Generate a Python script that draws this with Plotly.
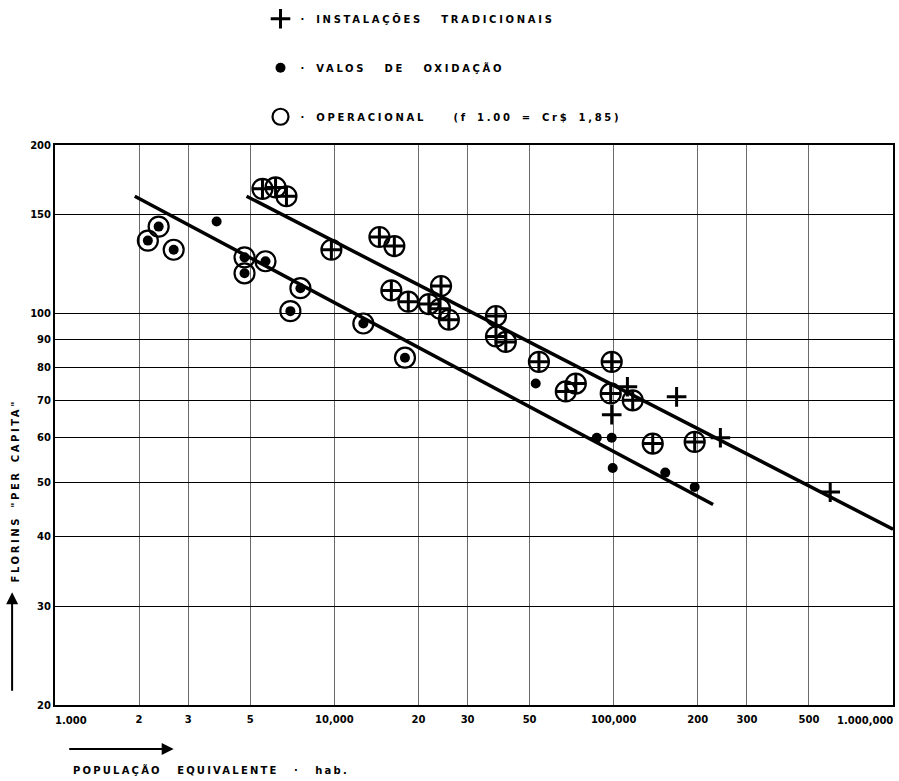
import plotly.graph_objects as go
import math

# ---------------- data ----------------
# operational oxidation ditches (dot inside circle)
dots_op_x = [2150, 2350, 2660, 4770, 4770, 5670, 7560, 6960, 12700, 17900]
dots_op_y = [135, 143, 130, 126, 118, 124, 111, 101, 96, 83.4]
# oxidation ditches (dot only)
dots_x = [3790, 52600, 87000, 98400, 99200, 153000, 195000]
dots_y = [146, 75, 60, 60, 53, 52, 49]
# operational traditional installations (cross inside circle)
crosses_op_x = [5530, 6160, 6740, 9760, 14500, 16400, 16000, 18400, 21800, 24100,
                23900, 25700, 37900, 37900, 41100, 54000, 67400, 73200, 98400, 97600,
                117000, 138000, 195000]
crosses_op_y = [167, 168, 162, 130, 137, 132, 110, 105, 104, 112,
                102, 97.5, 99, 91, 89, 82, 72.6, 75, 82, 72,
                70, 58.6, 59]
# traditional installations (cross only)
crosses_x = [112000, 98400, 168000, 241000, 596000]
crosses_y = [74, 66, 71, 60, 48]

# fitted lines
lower_x = [1930, 227000]
lower_y = [162, 45.6]
upper_x = [4850, 1000000]
upper_y = [162, 41.2]

# axis ticks
x_tickvals = [1000, 2000, 3000, 5000, 10000, 20000, 30000, 50000,
              100000, 200000, 300000, 500000, 1000000]
x_ticktext = ["", "2", "3", "5", "10,000", "20", "30", "50",
              "100,000", "200", "300", "500", ""]
x_first_label = "1.000"
x_last_label = "1.000,000"
y_tickvals = [20, 30, 40, 50, 60, 70, 80, 90, 100, 150, 200]
y_ticktext = ["20", "30", "40", "50", "60", "70", "80", "90", "100", "150", "200"]

name_cross = "· INSTALAÇÕES  TRADICIONAIS"
name_dot = "· VALOS  DE  OXIDAÇÃO"
name_circle = "· OPERACIONAL   (f 1.00 = Cr$ 1,85)"
x_title = "POPULAÇÃO  EQUIVALENTE  ·  hab."
y_title = "FLORINS \"PER CAPITA\""

FONT = "DejaVu Sans"

fig = go.Figure()

for lx, ly in [(lower_x, lower_y), (upper_x, upper_y)]:
    fig.add_trace(go.Scatter(x=lx, y=ly, mode="lines",
                             line=dict(color="black", width=3.5),
                             showlegend=False, hoverinfo="skip"))

fig.add_trace(go.Scatter(
    x=dots_op_x + crosses_op_x, y=dots_op_y + crosses_op_y, mode="markers",
    name=name_circle, legendgroup="c", legendrank=3,
    marker=dict(symbol="circle-open", size=20, color="black",
                line=dict(color="black", width=2.2))))
fig.add_trace(go.Scatter(
    x=crosses_op_x + crosses_x, y=crosses_op_y + crosses_y, mode="markers",
    name=name_cross, legendgroup="a", legendrank=1,
    marker=dict(symbol="cross-thin-open", size=14, color="black",
                line=dict(color="black", width=3))))
fig.add_trace(go.Scatter(
    x=dots_op_x + dots_x, y=dots_op_y + dots_y, mode="markers",
    name=name_dot, legendgroup="b", legendrank=2,
    marker=dict(symbol="circle", size=10, color="black")))

L, R, T, B = 55, 4, 144, 76
W, H = 899, 781
pw, ph = W - L - R, H - T - B


def px(xp):
    return (xp - L) / pw


def py(yp):
    return (H - B - yp) / ph


axis_font = dict(family=FONT, size=10, color="black", weight="bold")

fig.update_xaxes(type="log", range=[3, 6], tickvals=x_tickvals, ticktext=x_ticktext,
                 showgrid=True, gridcolor="#6a6a6a", gridwidth=1.3,
                 showline=True, mirror=True, linecolor="black", linewidth=2,
                 ticks="", tickfont=axis_font, zeroline=False,
                 ticklabelstandoff=4)
fig.update_yaxes(type="log", range=[math.log10(20), math.log10(200)],
                 tickvals=y_tickvals, ticktext=y_ticktext,
                 showgrid=True, gridcolor="black", gridwidth=1.2,
                 showline=True, mirror=True, linecolor="black", linewidth=2,
                 ticks="", tickfont=axis_font, zeroline=False)

ann_font = dict(family=FONT, size=10, color="black", weight="bold")
fig.add_annotation(xref="paper", yref="paper", x=px(53), y=py(713), text=x_first_label,
                   showarrow=False, xanchor="left", yanchor="top", font=axis_font)
fig.add_annotation(xref="paper", yref="paper", x=px(897), y=py(713), text=x_last_label,
                   showarrow=False, xanchor="right", yanchor="top", font=axis_font)
# axis titles
fig.add_annotation(xref="paper", yref="paper", x=px(71), y=py(770), text=x_title,
                   showarrow=False, xanchor="left", yanchor="middle", align="left",
                   font=ann_font)
fig.add_annotation(xref="paper", yref="paper", x=px(15), y=py(490), text=y_title,
                   showarrow=False, textangle=-90, xanchor="center", yanchor="middle",
                   font=ann_font)
# arrows
fig.add_annotation(xref="paper", yref="paper", x=px(174), y=py(749), ax=-106, ay=0,
                   text="", showarrow=True, arrowhead=2, arrowsize=1.2, arrowwidth=2,
                   arrowcolor="black", axref="pixel", ayref="pixel")
fig.add_annotation(xref="paper", yref="paper", x=px(12), y=py(592), ax=0, ay=100,
                   text="", showarrow=True, arrowhead=2, arrowsize=1.2, arrowwidth=2,
                   arrowcolor="black", axref="pixel", ayref="pixel")

fig.update_layout(
    width=W, height=H,
    margin=dict(l=L, r=R, t=T, b=B),
    paper_bgcolor="white", plot_bgcolor="white",
    font=dict(family=FONT, color="black"),
    legend=dict(x=px(261), y=py(3), xanchor="left", yanchor="top",
                font=dict(family=FONT, size=10, color="black", weight="bold"),
                tracegroupgap=30, bgcolor="rgba(0,0,0,0)",
                traceorder="grouped"),
    showlegend=True,
)

post = """
var s=document.createElement('style');
s.textContent='.legendtext{letter-spacing:2.7px;word-spacing:3px}'+
 '.legend .scrollbox{clip-path:none !important}'+
 '.annotation[data-index="2"] .annotation-text{letter-spacing:2.2px;word-spacing:2px}'+
 '.annotation[data-index="3"] .annotation-text{letter-spacing:2.6px;word-spacing:2px}';
document.head.appendChild(s);
"""
fig.write_html("out.html", post_script=post)
